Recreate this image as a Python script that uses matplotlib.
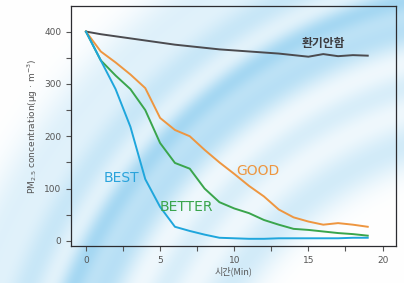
import numpy as np
import matplotlib.pyplot as plt
from matplotlib.ticker import MultipleLocator

# minutes
minutes = list(range(20))

# PM2.5 concentration (ug/m3)
no_vent = [400, 395, 391, 387, 383, 379, 375, 372, 369, 366,
           364, 362, 360, 358, 355, 352, 357, 353, 355, 354]
good = [400, 362, 341, 318, 292, 235, 212, 200, 174, 150,
        128, 105, 85, 60, 45, 37, 31, 34, 31, 27]
better = [400, 345, 316, 290, 250, 187, 149, 138, 100, 74,
          62, 53, 40, 31, 23, 21, 18, 15, 13, 10]
best = [400, 345, 290, 218, 118, 65, 27, 19, 12, 6,
        5, 4, 4, 5, 5, 5, 5, 5, 6, 6]

x_ticks = [0, 5, 10, 15, 20]
y_ticks = [0, 100, 200, 300, 400]

fig = plt.figure(figsize=(4.04, 2.83), dpi=100)

# soft blue swoosh background (decoration only)
bg = fig.add_axes([0, 0, 1, 1])
h, w = 283, 404
yy, xx = np.mgrid[0:h, 0:w]
r = np.hypot(xx - 520, yy - 470)
field = np.zeros((h, w))
for rad, width, amp in [(345, 25, 0.35), (400, 18, 0.3), (455, 22, 0.55),
                        (485, 14, 0.6), (525, 20, 0.4), (570, 30, 0.25)]:
    field += amp * np.exp(-((r - rad) / width) ** 2)
field = np.clip(field, 0, 1)
light = np.array([1.0, 1.0, 1.0])
blue = np.array([0.50, 0.78, 0.93])
img = light[None, None, :] * (1 - field[..., None]) + blue[None, None, :] * field[..., None]
bg.imshow(img, aspect='auto', extent=[0, 1, 0, 1], origin='upper')
bg.axis('off')

ax = fig.add_axes([0.176, 0.131, 0.804, 0.848])
ax.patch.set_alpha(0)

ax.plot(minutes, no_vent, color='#4b4b4f', lw=1.4)
ax.plot(minutes, good, color='#ee9640', lw=1.4)
ax.plot(minutes, better, color='#3aa54c', lw=1.4)
ax.plot(minutes, best, color='#1fa6dc', lw=1.4)

ax.text(2.4, 120, 'BEST', color='#2aa3db', fontsize=10, ha='center', va='center',
        fontfamily='Liberation Sans Narrow')
ax.text(6.8, 65, 'BETTER', color='#3aa54c', fontsize=10, ha='center', va='center',
        fontfamily='Liberation Sans Narrow')
ax.text(11.6, 134, 'GOOD', color='#ee9640', fontsize=10, ha='center', va='center',
        fontfamily='Liberation Sans Narrow')
ax.text(16.0, 377, '환기안함', color='#3c3c40', fontsize=8.5, ha='center', va='center',
        fontweight='bold', fontfamily=['Noto Sans CJK KR', 'DejaVu Sans'])

ax.set_xlim(-1.0, 20.9)
ax.set_ylim(-9.6, 449)
ax.set_xticks(x_ticks)
ax.set_yticks(y_ticks)
ax.xaxis.set_minor_locator(MultipleLocator(2.5))
ax.yaxis.set_minor_locator(MultipleLocator(50))
ax.tick_params(which='both', direction='out', colors='#555555', labelsize=6.5, length=3.5, width=0.8)
for s in ax.spines.values():
    s.set_color('#2c2c30')
    s.set_linewidth(0.9)

ax.set_xlabel('시간(Min)', fontsize=6.5, color='#555555', labelpad=1,
              fontfamily=['Noto Sans CJK KR', 'DejaVu Sans'])
ax.set_ylabel('PM$_{2.5}$ concentration(μg · m$^{-3}$)', fontsize=6.5, color='#555555', labelpad=3)

fig.savefig('out.png', dpi=100)
